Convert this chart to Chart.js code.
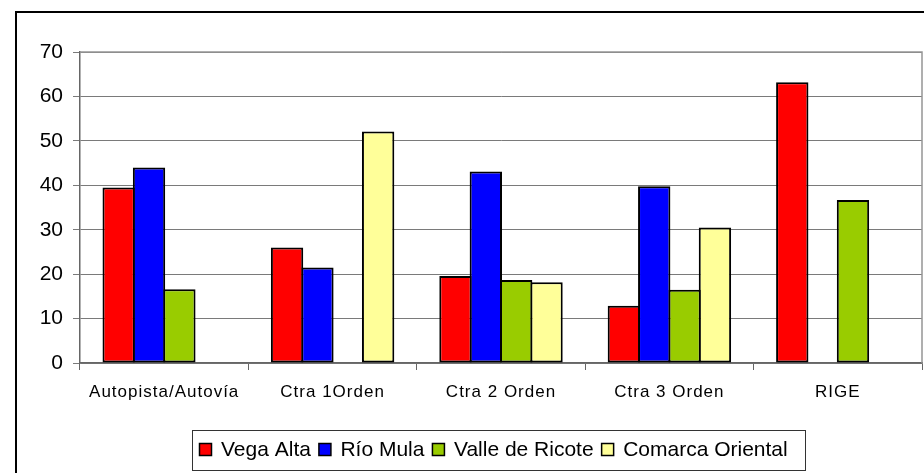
<!DOCTYPE html>
<html>
<head>
<meta charset="utf-8">
<script src="https://cdn.jsdelivr.net/npm/chart.js@4/dist/chart.umd.min.js"></script>
<style>
  html, body { margin: 0; padding: 0; background: #ffffff; }
  #wrap { width: 924px; height: 473px; position: relative; }
</style>
</head>
<body>
<div id="wrap"><canvas id="chart" width="924" height="473"></canvas></div>
<script>
// Road categories along the x axis
const categories = ['Autopista/Autovía', 'Ctra 1Orden', 'Ctra 2 Orden', 'Ctra 3 Orden', 'RIGE'];

// One series per comarca (null = no bar)
const vegaAlta        = [39.5, 26.0, 19.6, 12.9, 63.2];
const rioMula         = [44.0, 21.5, 43.1, 39.8, null];
const valleDeRicote   = [16.6, null, 18.7, 16.5, 36.7];
const comarcaOriental = [null, 52.1, 18.2, 30.5, null];

const seriesNames  = ['Vega Alta', 'Río Mula', 'Valle de Ricote', 'Comarca Oriental'];
const seriesColors = ['#FF0000', '#0000FF', '#99CC00', '#FFFF99'];

// Value axis
const yMin = 0, yMax = 70, yStep = 10;

const FONT = "'Liberation Sans', Arial, sans-serif";

const values = [vegaAlta, rioMula, valleDeRicote, comarcaOriental];
const datasets = values.map((v, i) => ({
  label: seriesNames[i],
  data: v,
  backgroundColor: seriesColors[i],
  borderColor: '#000000',
  borderWidth: 2,
  borderSkipped: false,
  categoryPercentage: 0.721,
  barPercentage: 1.066
}));

// Frame, plot border, boxed legend and spaced category labels
const framePlugin = {
  id: 'frame',
  afterLayout(chart) {
    const sx = chart.scales.x;
    if (sx && !sx._spaced) {
      const orig = sx.drawLabels.bind(sx);
      sx.drawLabels = function (area) {
        const c = this.ctx;
        c.save();
        c.letterSpacing = '1px';
        orig(area);
        c.restore();
      };
      sx._spaced = true;
    }
  },
  afterDraw(chart) {
    const ctx = chart.ctx;
    const a = chart.chartArea;
    ctx.save();
    // plot area outline (top / right)
    ctx.strokeStyle = '#959595';
    ctx.lineWidth = 1.5;
    ctx.beginPath();
    ctx.moveTo(a.left, a.top);
    ctx.lineTo(a.right, a.top);
    ctx.lineTo(a.right, a.bottom);
    ctx.stroke();
    // outer chart frame
    ctx.strokeStyle = '#000000';
    ctx.lineWidth = 2;
    ctx.strokeRect(16, 12, 930, 480);

    // legend
    const lx = 192.5, ly = 430.5, lw = 613, lh = 40;
    ctx.fillStyle = '#ffffff';
    ctx.fillRect(lx, ly, lw, lh);
    ctx.strokeStyle = '#333333';
    ctx.lineWidth = 1;
    ctx.strokeRect(lx, ly, lw, lh);
    ctx.font = '21px ' + FONT;
    ctx.textBaseline = 'alphabetic';
    ctx.textAlign = 'left';
    let x = 199.5;
    chart.data.datasets.forEach(ds => {
      ctx.fillStyle = ds.backgroundColor;
      ctx.fillRect(x, 443.5, 12, 12);
      ctx.strokeStyle = '#000000';
      ctx.lineWidth = 1.5;
      ctx.strokeRect(x, 443.5, 12, 12);
      ctx.fillStyle = '#000000';
      ctx.fillText(ds.label, x + 21.5, 455.5);
      x += 21.5 + ctx.measureText(ds.label).width + 8;
    });
    ctx.restore();
  }
};

new Chart(document.getElementById('chart'), {
  type: 'bar',
  data: { labels: categories, datasets },
  options: {
    responsive: false,
    animation: false,
    devicePixelRatio: 1,
    layout: { padding: { top: 52, right: 2, bottom: 0, left: 0 } },
    plugins: {
      legend: { display: false },
      tooltip: { enabled: false }
    },
    scales: {
      x: {
        type: 'category',
        offset: true,
        grid: {
          offset: true,
          drawOnChartArea: false,
          drawTicks: true,
          tickLength: 7,
          color: '#666666',
          lineWidth: 1
        },
        border: { color: '#666666', width: 1.5 },
        ticks: {
          color: '#000000',
          font: { family: FONT, size: 17 },
          padding: 12,
          maxRotation: 0,
          autoSkip: false
        },
        afterFit(scale) { scale.height = 110; }
      },
      y: {
        min: yMin,
        max: yMax,
        grid: {
          color: '#7a7a7a',
          lineWidth: 1,
          tickLength: 7
        },
        border: { color: '#666666', width: 1.5 },
        ticks: {
          stepSize: yStep,
          color: '#000000',
          font: { family: FONT, size: 21 },
          padding: 10
        },
        afterFit(scale) { scale.width = 80; }
      }
    }
  },
  plugins: [framePlugin]
});
</script>
</body>
</html>
